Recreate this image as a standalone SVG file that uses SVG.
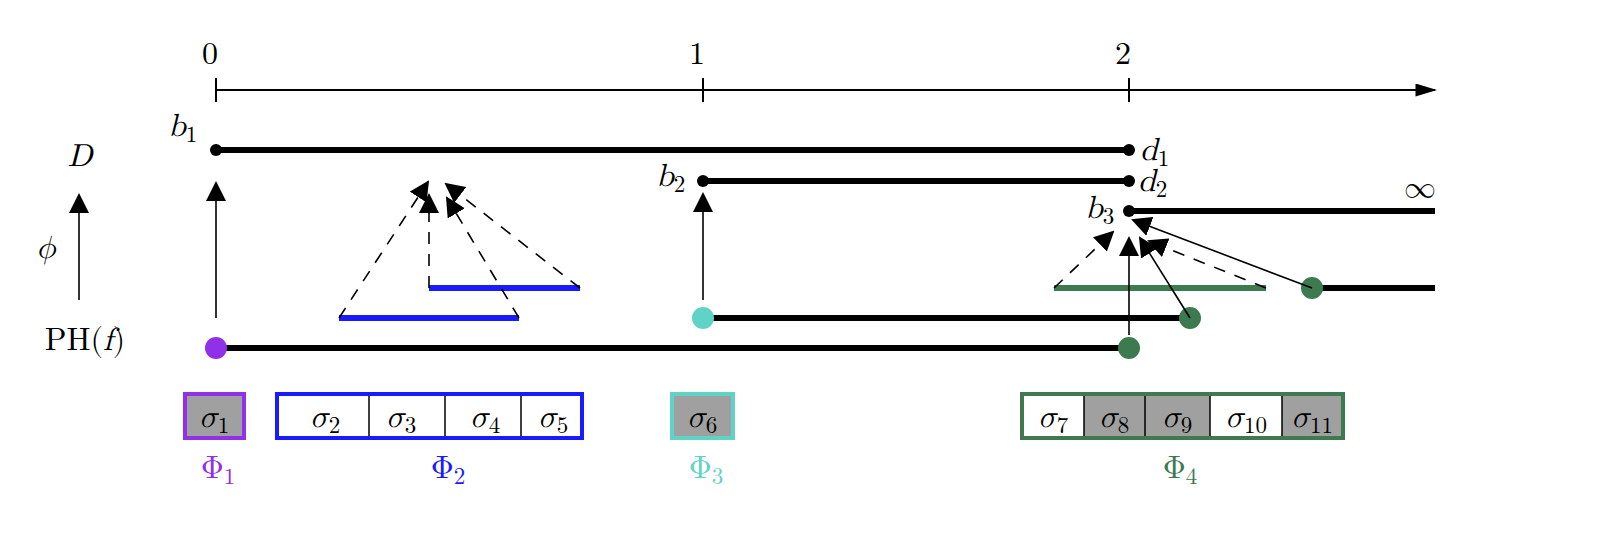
<svg xmlns="http://www.w3.org/2000/svg" width="1612" height="542" viewBox="0 0 1612 542">
<style>
text{font-family:"Latin Modern Math","DejaVu Serif","Liberation Serif",serif;font-size:32px;fill:#000}
.i{font-style:italic}
.s{font-size:23px;font-style:normal}
.bar{stroke:#000;stroke-width:6}
.th{stroke:#000;stroke-width:2;fill:none}
.da{stroke:#000;stroke-width:1.6;stroke-dasharray:12,10;fill:none}
.so{stroke:#000;stroke-width:1.6;fill:none}
.cell{stroke:#000;stroke-width:1.5}
</style>
<defs>
<marker id="ab" viewBox="0 0 10 10" refX="9" refY="5" markerWidth="20" markerHeight="20" markerUnits="userSpaceOnUse" orient="auto"><path d="M0,0L10,5L0,10z" fill="#000"/></marker>
<marker id="ax" viewBox="0 0 10 6" refX="9" refY="3" markerWidth="22" markerHeight="13" markerUnits="userSpaceOnUse" orient="auto"><path d="M0,0L10,3L0,6z" fill="#000"/></marker>
</defs>
<g id="axis">
<line x1="216" y1="90" x2="1435" y2="90" class="th" marker-end="url(#ax)"/>
<line x1="216" y1="78" x2="216" y2="102" class="th"/>
<line x1="703" y1="78" x2="703" y2="102" class="th"/>
<line x1="1129" y1="78" x2="1129" y2="102" class="th"/>
<text x="210" y="64" text-anchor="middle">0</text>
<text x="697" y="64" text-anchor="middle">1</text>
<text x="1123" y="64" text-anchor="middle">2</text>
</g>
<g id="labels">
<text x="80" y="166" text-anchor="middle" class="i">D</text>
<text x="46" y="258" text-anchor="middle" class="i">ϕ</text>
<line x1="79" y1="300" x2="79" y2="195" class="so" marker-end="url(#ab)"/>
<text x="85" y="350" text-anchor="middle">PH(<tspan class="i">f</tspan>)</text>
</g>
<g id="diagram-D">
<line x1="216" y1="150" x2="1129" y2="150" class="bar"/>
<circle cx="216" cy="150" r="6"/><circle cx="1129" cy="150" r="6"/>
<line x1="703" y1="181" x2="1129" y2="181" class="bar"/>
<circle cx="703" cy="181" r="6"/><circle cx="1129" cy="181" r="6"/>
<line x1="1129" y1="211" x2="1435" y2="211" class="bar"/>
<circle cx="1129" cy="211" r="6"/>
<text x="168" y="136" class="i">b<tspan class="s" dy="6">1</tspan></text>
<text x="1140" y="160" class="i">d<tspan class="s" dy="6">1</tspan></text>
<text x="656" y="186" class="i">b<tspan class="s" dy="6">2</tspan></text>
<text x="1138" y="191" class="i">d<tspan class="s" dy="6">2</tspan></text>
<text x="1085" y="218" class="i">b<tspan class="s" dy="6">3</tspan></text>
<text x="1420" y="198" text-anchor="middle" font-size="36">∞</text>
</g>
<g id="diagram-PH">
<line x1="216" y1="348" x2="1129" y2="348" class="bar"/>
<line x1="703" y1="318" x2="1190" y2="318" class="bar"/>
<line x1="1312" y1="288" x2="1435" y2="288" class="bar"/>
<line x1="339" y1="318" x2="519" y2="318" stroke="#1a1aff" stroke-width="6"/>
<line x1="429" y1="288" x2="580" y2="288" stroke="#1a1aff" stroke-width="6"/>
<line x1="1054" y1="288" x2="1266" y2="288" stroke="#3d7a50" stroke-width="6"/>
<circle cx="216" cy="348" r="11" fill="#9030e8"/>
<circle cx="1129" cy="348" r="11" fill="#3d7a50"/>
<circle cx="703" cy="318" r="11" fill="#5fd3c6"/>
<circle cx="1190" cy="318" r="11" fill="#3d7a50"/>
<circle cx="1312" cy="288" r="11" fill="#3d7a50"/>
</g>
<g id="connectors">
<line x1="216" y1="318" x2="216" y2="183" class="so" marker-end="url(#ab)"/>
<line x1="703" y1="300" x2="703" y2="194" class="so" marker-end="url(#ab)"/>
<line x1="339" y1="318" x2="428" y2="182" class="da" marker-end="url(#ab)"/>
<line x1="429" y1="288" x2="429" y2="195" class="da" marker-end="url(#ab)"/>
<line x1="519" y1="318" x2="447" y2="198" class="da" marker-end="url(#ab)"/>
<line x1="580" y1="288" x2="446" y2="184" class="da" marker-end="url(#ab)"/>
<line x1="1054" y1="288" x2="1113" y2="232" class="da" marker-end="url(#ab)"/>
<line x1="1129" y1="335" x2="1129" y2="238" class="so" marker-end="url(#ab)"/>
<line x1="1190" y1="318" x2="1140" y2="238" class="so" marker-end="url(#ab)"/>
<line x1="1266" y1="288" x2="1149" y2="241" class="da" marker-end="url(#ab)"/>
<line x1="1312" y1="288" x2="1133" y2="220" class="so" marker-end="url(#ab)"/>
</g>
<g id="phi1">
<rect x="185" y="394" width="59" height="44" fill="#a0a0a0" stroke="#9030e8" stroke-width="4"/>
<text x="214" y="427" text-anchor="middle" class="i">σ<tspan class="s" dy="6">1</tspan></text>
<text x="218" y="478" text-anchor="middle" style="fill:#9030e8">Φ<tspan class="s" dy="6">1</tspan></text>
</g>
<g id="phi2">
<rect x="277" y="394" width="305" height="44" fill="#fff" stroke="#1a1aff" stroke-width="4"/>
<line x1="369" y1="396" x2="369" y2="436" class="cell"/>
<line x1="445" y1="396" x2="445" y2="436" class="cell"/>
<line x1="521" y1="396" x2="521" y2="436" class="cell"/>
<text x="325" y="427" text-anchor="middle" class="i">σ<tspan class="s" dy="6">2</tspan></text>
<text x="401" y="427" text-anchor="middle" class="i">σ<tspan class="s" dy="6">3</tspan></text>
<text x="485" y="427" text-anchor="middle" class="i">σ<tspan class="s" dy="6">4</tspan></text>
<text x="553" y="427" text-anchor="middle" class="i">σ<tspan class="s" dy="6">5</tspan></text>
<text x="448" y="478" text-anchor="middle" style="fill:#1a1aff">Φ<tspan class="s" dy="6">2</tspan></text>
</g>
<g id="phi3">
<rect x="672" y="394" width="61" height="44" fill="#a0a0a0" stroke="#5fd3c6" stroke-width="4"/>
<text x="702" y="427" text-anchor="middle" class="i">σ<tspan class="s" dy="6">6</tspan></text>
<text x="706" y="478" text-anchor="middle" style="fill:#5fd3c6">Φ<tspan class="s" dy="6">3</tspan></text>
</g>
<g id="phi4">
<rect x="1022" y="394" width="321" height="44" fill="#fff" stroke="#3d7a50" stroke-width="4"/>
<rect x="1084" y="396" width="126" height="40" fill="#a0a0a0"/>
<rect x="1282" y="396" width="59" height="40" fill="#a0a0a0"/>
<line x1="1084" y1="396" x2="1084" y2="436" class="cell"/>
<line x1="1145" y1="396" x2="1145" y2="436" class="cell"/>
<line x1="1210" y1="396" x2="1210" y2="436" class="cell"/>
<line x1="1282" y1="396" x2="1282" y2="436" class="cell"/>
<text x="1053" y="427" text-anchor="middle" class="i">σ<tspan class="s" dy="6">7</tspan></text>
<text x="1114" y="427" text-anchor="middle" class="i">σ<tspan class="s" dy="6">8</tspan></text>
<text x="1177" y="427" text-anchor="middle" class="i">σ<tspan class="s" dy="6">9</tspan></text>
<text x="1246" y="427" text-anchor="middle" class="i">σ<tspan class="s" dy="6">10</tspan></text>
<text x="1312" y="427" text-anchor="middle" class="i">σ<tspan class="s" dy="6">11</tspan></text>
<text x="1180" y="478" text-anchor="middle" style="fill:#3d7a50">Φ<tspan class="s" dy="6">4</tspan></text>
</g>
</svg>
